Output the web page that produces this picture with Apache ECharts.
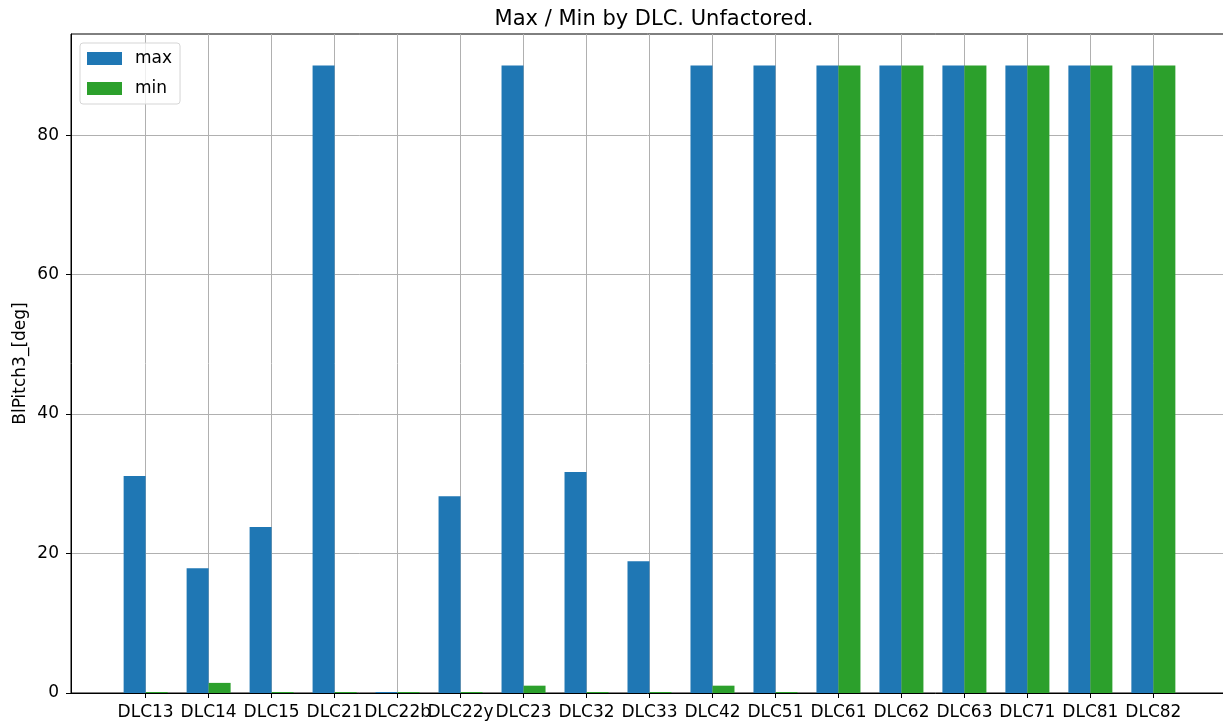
<!DOCTYPE html>
<html>
<head>
<meta charset="utf-8">
<script src="https://cdn.jsdelivr.net/npm/echarts@6/dist/echarts.min.js"></script>
<style>
  html, body { margin: 0; padding: 0; background: #fff; }
  #chart { width: 1223px; height: 723px; }
</style>
</head>
<body>
<div id="chart"></div>
<script>
var categories = ['DLC13','DLC14','DLC15','DLC21','DLC22b','DLC22y','DLC23','DLC32','DLC33','DLC42','DLC51','DLC61','DLC62','DLC63','DLC71','DLC81','DLC82'];
var maxValues = [31.1, 17.9, 23.8, 90, 0, 28.2, 90, 31.7, 18.9, 90, 90, 90, 90, 90, 90, 90, 90];
var minValues = [0, 1.45, 0, 0, 0, 0, 1.05, 0, 0, 1.05, 0, 90, 90, 90, 90, 90, 90];
var yTicks = [0, 20, 40, 60, 80];

var chart = echarts.init(document.getElementById('chart'));
var font = 'DejaVu Sans';
var positions = categories.map(function (c, i) { return i; });

option = {
    animation: false,
    textStyle: { fontFamily: font },
    title: {
        text: 'Max / Min by DLC. Unfactored.',
        left: 649,
        top: 4,
        textAlign: 'center',
        textStyle: { fontFamily: font, fontSize: 21, fontWeight: 'normal', color: '#000' }
    },
    legend: {
        orient: 'vertical',
        left: 80,
        top: 43,
        icon: 'rect',
        itemWidth: 35,
        itemHeight: 13,
        itemGap: 13,
        padding: [7, 8, 7, 7],
        borderColor: '#d5d5d5',
        borderWidth: 1,
        borderRadius: 3,
        backgroundColor: 'rgba(255,255,255,0.8)',
        textStyle: { fontFamily: font, fontSize: 17, color: '#000', padding: [0, 0, 0, 8] },
        data: ['max', 'min']
    },
    grid: {
        left: 71,
        right: -5,
        top: 34,
        bottom: 30,
        show: true,
        borderColor: '#000',
        borderWidth: 1,
        containLabel: false,
        outerBoundsMode: 'none'
    },
    xAxis: {
        type: 'value',
        min: -1.185,
        max: 17.185,
        axisLine: { show: true, onZero: false, lineStyle: { color: '#000', width: 1 } },
        axisTick: { show: true, customValues: positions, length: 5, lineStyle: { color: '#000' } },
        axisLabel: {
            customValues: positions,
            formatter: function (v) { return categories[Math.round(v)]; },
            fontFamily: font, fontSize: 17, color: '#000', margin: 11,
            hideOverlap: false
        },
        splitLine: { show: true, lineStyle: { color: '#b0b0b0', width: 1 } }
    },
    yAxis: {
        type: 'value',
        min: 0,
        max: 94.5,
        interval: 20,
        name: 'BlPitch3_[deg]',
        nameLocation: 'middle',
        nameGap: 42,
        nameMoveOverlap: false,
        nameTextStyle: { fontFamily: font, fontSize: 17, color: '#000' },
        axisLine: { show: true, onZero: false, lineStyle: { color: '#000', width: 1 } },
        axisTick: { show: true, customValues: yTicks, length: 5, lineStyle: { color: '#000' } },
        axisLabel: { customValues: yTicks, fontFamily: font, fontSize: 17, color: '#000', margin: 12 },
        splitLine: { show: true, lineStyle: { color: '#b0b0b0', width: 1 } }
    },
    series: [
        {
            name: 'max',
            type: 'bar',
            barWidth: 22,
            barGap: '0%',
            barMinHeight: 1,
            itemStyle: { color: '#1f77b4' },
            data: maxValues.map(function (v, i) { return [positions[i], v]; })
        },
        {
            name: 'min',
            type: 'bar',
            barWidth: 22,
            barGap: '0%',
            barMinHeight: 1,
            itemStyle: { color: '#2ca02c' },
            data: minValues.map(function (v, i) { return [positions[i], v]; })
        }
    ]
};

chart.setOption(option);
</script>
</body>
</html>
